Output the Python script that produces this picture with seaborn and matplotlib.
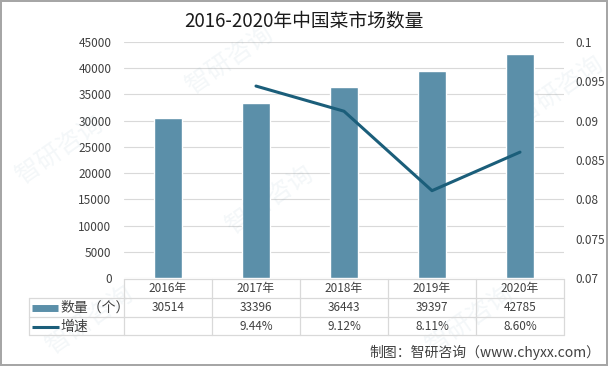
import pandas as pd
import seaborn as sns
import matplotlib.pyplot as plt
from matplotlib.lines import Line2D
from matplotlib.transforms import blended_transform_factory

# Data
years = ["2016年", "2017年", "2018年", "2019年", "2020年"]
counts = [30514, 33396, 36443, 39397, 42785]
growth = [None, 0.0944, 0.0912, 0.0811, 0.0860]
count_labels = ["30514", "33396", "36443", "39397", "42785"]
growth_labels = ["", "9.44%", "9.12%", "8.11%", "8.60%"]

bar_color = "#5b8fa9"
line_color = "#1b5e7a"
text_color = "#404040"
grid_color = "#d9d9d9"

sns.set_theme(style="white")
plt.rcParams["font.family"] = ["Noto Sans CJK SC", "DejaVu Sans"]

df = pd.DataFrame({"year": years, "count": counts, "growth": growth})

fig = plt.figure(figsize=(6.08, 3.66), dpi=100)
fig.patch.set_edgecolor("#a6a6a6")
fig.patch.set_linewidth(1.5)

W, H = 608, 366
x0, x1, ytop, ybot = 124, 564, 42, 278
ax = fig.add_axes([x0 / W, 1 - ybot / H, (x1 - x0) / W, (ybot - ytop) / H])

sns.barplot(data=df, x="year", y="count", color=bar_color, width=0.31,
            saturation=1, ax=ax, zorder=2)
ax.set_ylim(0, 45000)
ax.set_yticks(range(0, 45001, 5000))
ax.yaxis.grid(True, color=grid_color, linewidth=0.8, zorder=0)
ax.set_xlabel("")
ax.set_ylabel("")
ax.set_xticklabels([])
ax.tick_params(axis="y", labelsize=8.5, colors=text_color, length=0, pad=9)
ax.tick_params(axis="x", length=0)
for s in ax.spines.values():
    s.set_visible(False)

ax2 = ax.twinx()
sns.lineplot(x=list(range(len(years))), y=growth, color=line_color,
             linewidth=2.2, ax=ax2, zorder=3)
ax2.set_ylim(0.07, 0.1)
ax2.set_yticks([0.07, 0.075, 0.08, 0.085, 0.09, 0.095, 0.1])
ax2.set_yticklabels(["0.07", "0.075", "0.08", "0.085", "0.09", "0.095", "0.1"])
ax2.tick_params(axis="y", labelsize=8.5, colors=text_color, length=0, pad=8)
for s in ax2.spines.values():
    s.set_visible(False)
ax.set_xlim(-0.5, len(years) - 0.5)

# Data table below the plot
def fy(py):
    return 1 - py / H

def fx(px):
    return px / W

row_y = [279, 298, 317, 335]
left = 29
col_w = (x1 - x0) / len(years)
line_kw = dict(color=grid_color, linewidth=0.9, transform=fig.transFigure)
fig.add_artist(Line2D([fx(x0), fx(x1)], [fy(row_y[0])] * 2, **line_kw))
for yy in row_y[1:]:
    fig.add_artist(Line2D([fx(left), fx(x1)], [fy(yy)] * 2, **line_kw))
fig.add_artist(Line2D([fx(left), fx(left)], [fy(row_y[1]), fy(row_y[3])], **line_kw))
for i in range(len(years) + 1):
    xx = x0 + i * col_w
    fig.add_artist(Line2D([fx(xx), fx(xx)], [fy(row_y[0]), fy(row_y[3])], **line_kw))

trans = blended_transform_factory(ax.transData, fig.transFigure)
for i in range(len(years)):
    ax.text(i, fy(288.5), years[i], transform=trans, ha="center", va="center",
            fontsize=8.5, color=text_color)
    ax.text(i, fy(307.5), count_labels[i], transform=trans, ha="center",
            va="center", fontsize=8.5, color=text_color)
    ax.text(i, fy(326), growth_labels[i], transform=trans, ha="center",
            va="center", fontsize=8.5, color=text_color)

# Legend keys inside the table
fig.add_artist(Line2D([fx(32), fx(58)], [fy(307.5)] * 2, color=bar_color,
                      linewidth=5, solid_capstyle="butt", transform=fig.transFigure))
fig.add_artist(Line2D([fx(32), fx(59)], [fy(326.5)] * 2, color=line_color,
                      linewidth=2.2, solid_capstyle="butt", transform=fig.transFigure))
fig.text(fx(60), fy(307.5), "数量（个）", ha="left", va="center", fontsize=10,
         color=text_color)
fig.text(fx(60), fy(326.5), "增速", ha="left", va="center", fontsize=10,
         color=text_color)

# Title and source
fig.text(0.5, fy(21), "2016-2020年中国菜市场数量", ha="center", va="center",
         fontsize=13.5, color="#1a1a1a")
fig.text(fx(600), fy(352), "制图：智研咨询（www.chyxx.com）", ha="right",
         va="center", fontsize=10, color=text_color)

# Faint watermarks
for (wx, wy) in [(60, 150), (270, 200), (470, 320), (230, 60), (560, 90), (90, 320)]:
    fig.text(fx(wx), fy(wy), "智研咨询", rotation=35, fontsize=18,
             color="#5b8fa9", alpha=0.07, ha="center", va="center", zorder=0)

fig.savefig("out.png", dpi=100)
